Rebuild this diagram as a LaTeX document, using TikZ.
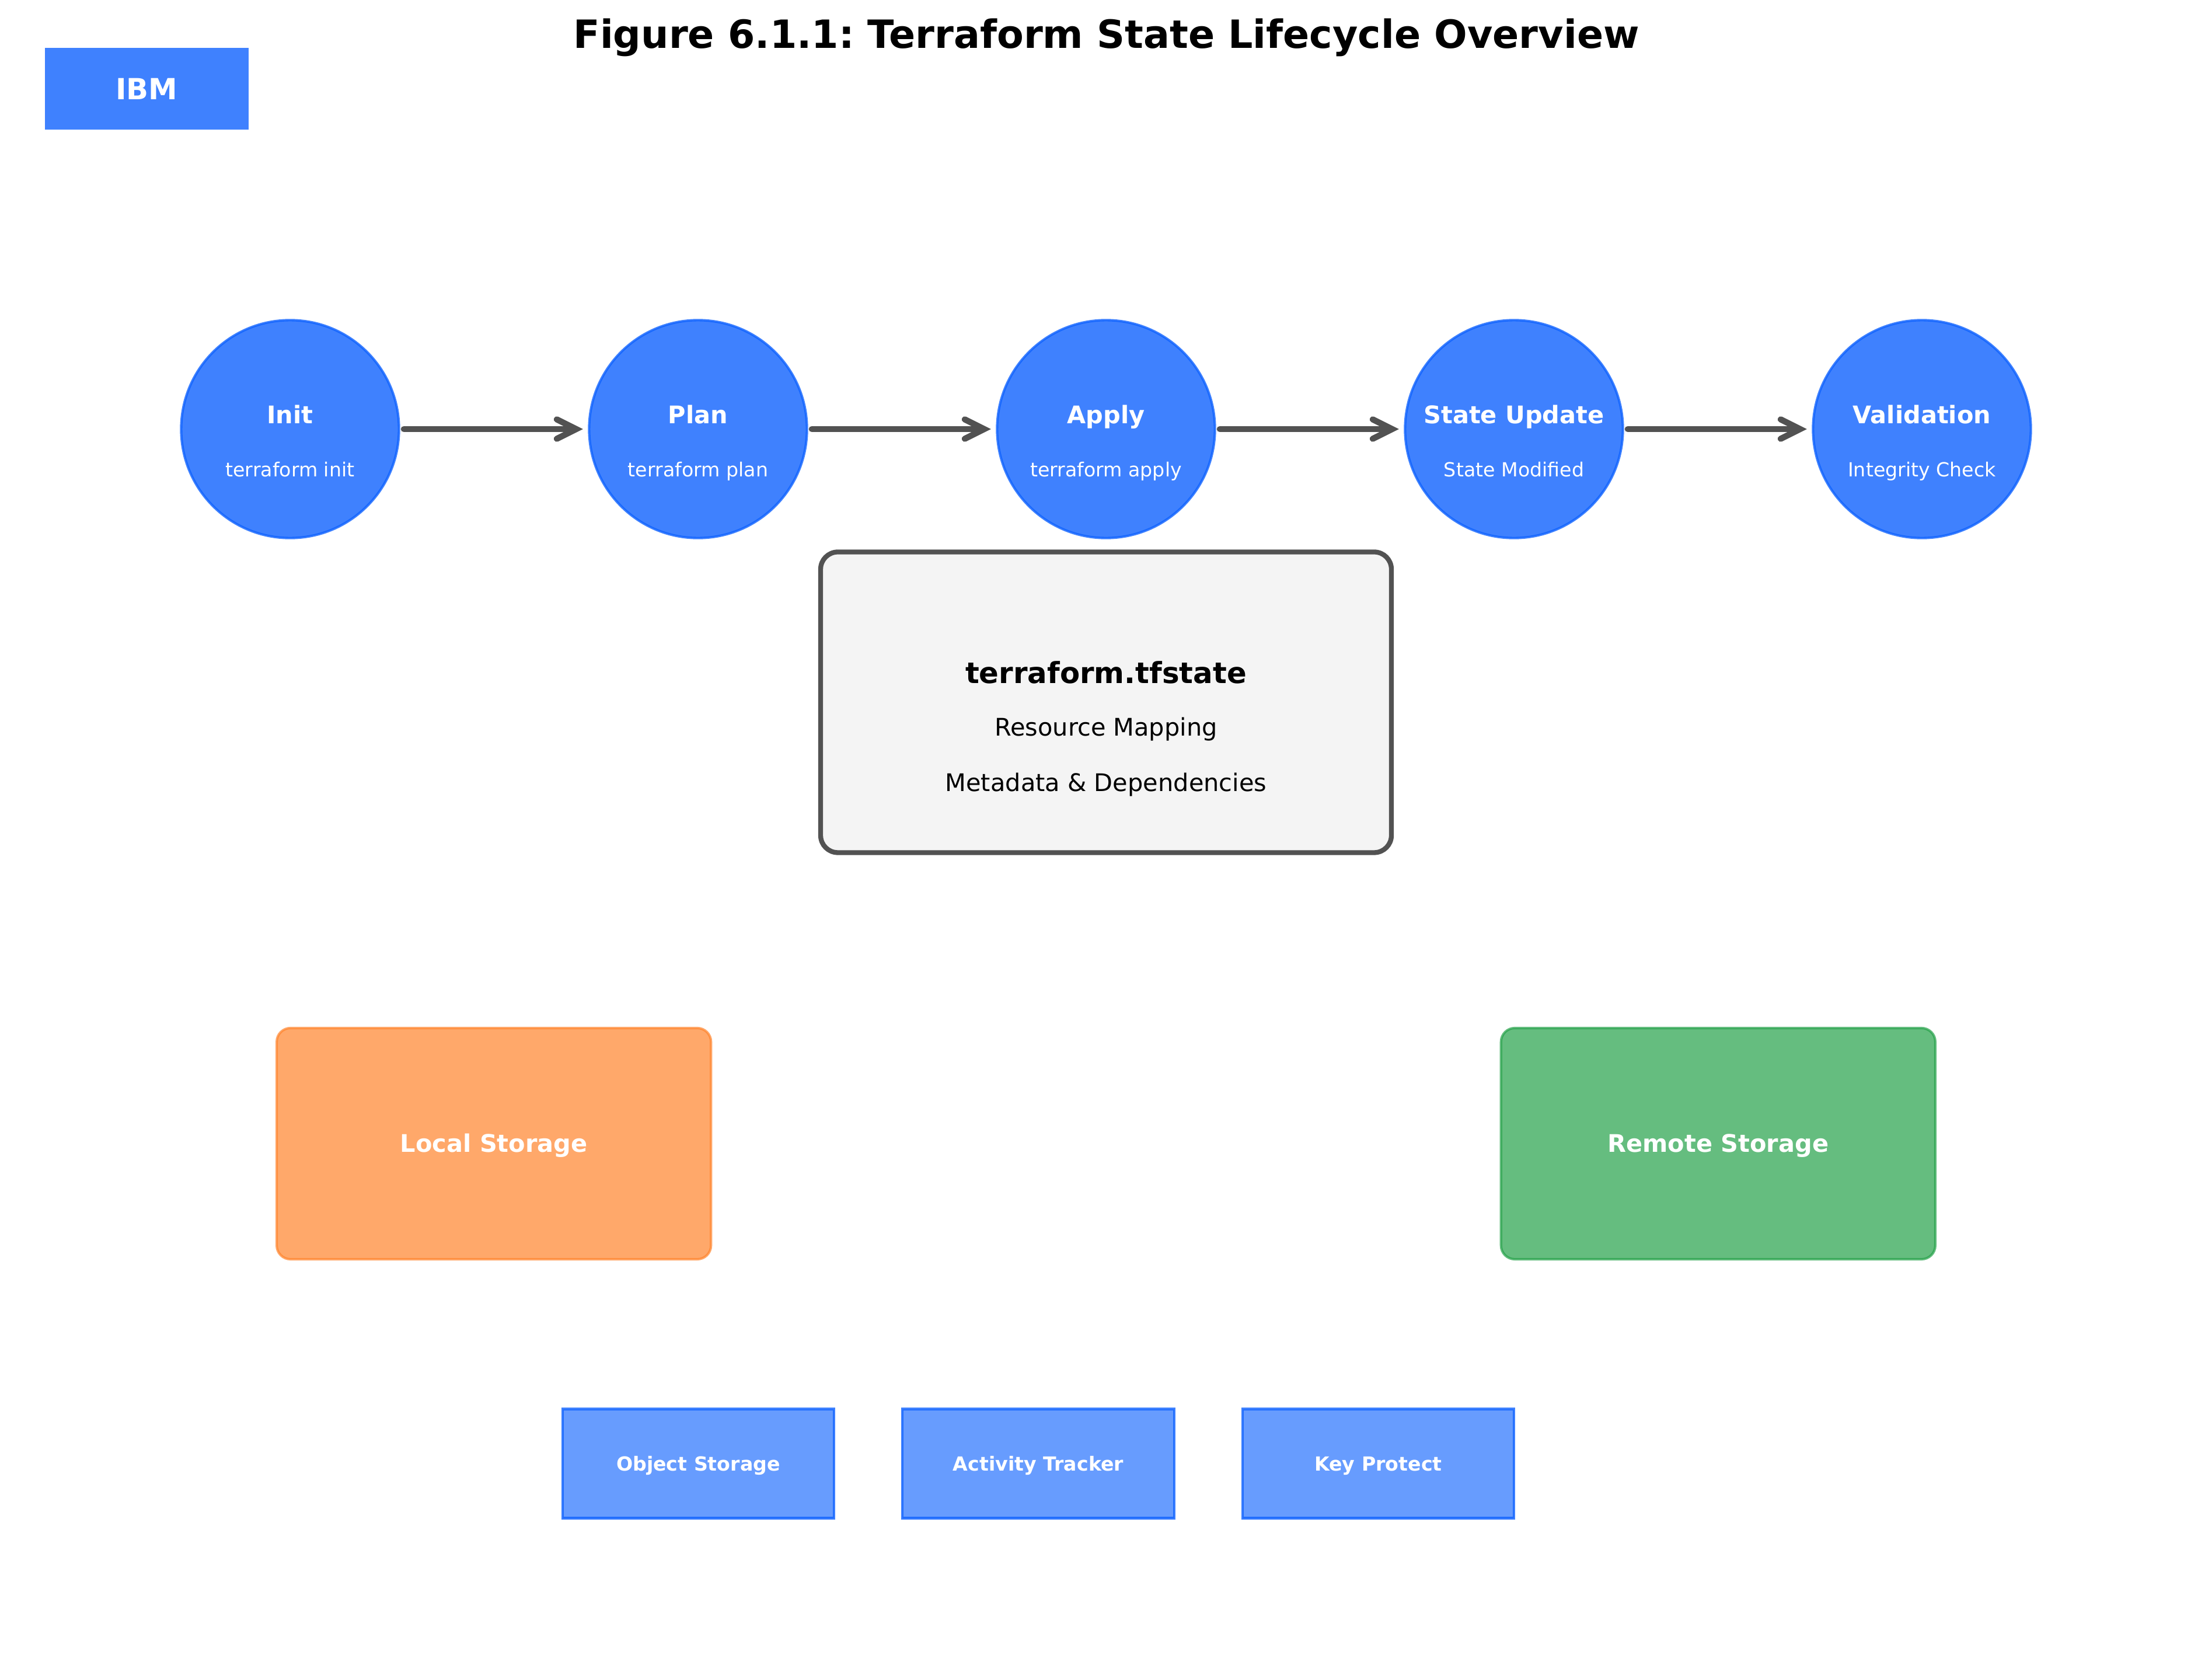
\documentclass[tikz,border=0pt]{standalone}
\usepackage{fontspec}
\setmainfont{DejaVu Sans}
\frenchspacing
\usetikzlibrary{arrows.meta,positioning}
\definecolor{IbmBlue}   {RGB}{ 15, 98,254}
\definecolor{StoreOrange}{RGB}{255,131, 43}
\definecolor{StoreGreen}{RGB}{ 36,161, 72}
\definecolor{StateFill} {RGB}{244,244,244}
\definecolor{StateEdge} {RGB}{ 82, 82, 82}
\tikzset{
  %% lifecycle circles
  stage/.style={circle,draw=IbmBlue,fill=IbmBlue,fill opacity=0.8,draw opacity=0.8,
                line width=1pt,minimum size=3.16cm,inner sep=0pt,outer sep=0pt},
  stagename/.style={anchor=base,inner sep=0pt,text=white,
                font=\fontsize{10}{12}\selectfont\bfseries},
  stagecmd/.style={anchor=base,inner sep=0pt,text=white,
                font=\fontsize{8}{10}\selectfont},
  %% state file box
  statebox/.style={rectangle,rounded corners=2.5mm,draw=StateEdge,fill=StateFill,
                line width=2pt,minimum width=8.28cm,minimum height=4.36cm,outer sep=0pt},
  statetitle/.style={anchor=base,inner sep=0pt,text=black,
                font=\fontsize{12}{14}\selectfont\bfseries},
  statetext/.style={anchor=base,inner sep=0pt,text=black,
                font=\fontsize{10}{12}\selectfont},
  %% storage boxes
  storebox/.style={rectangle,rounded corners=2mm,line width=1pt,
                fill opacity=0.7,draw opacity=0.7,text opacity=1,text=white,
                minimum width=6.30cm,minimum height=3.353cm,outer sep=0pt,
                text height=9.7pt,text depth=2.5pt,
                font=\fontsize{10}{12}\selectfont\bfseries},
  %% IBM service boxes
  svcbox/.style={rectangle,draw=IbmBlue,fill=IbmBlue,line width=1pt,
                fill opacity=0.63,draw opacity=0.8,text opacity=1,text=white,
                minimum width=3.94cm,minimum height=1.583cm,outer sep=0pt,
                text height=7pt,text depth=1.2pt,
                font=\fontsize{8}{10}\selectfont\bfseries},
  logobox/.style={rectangle,fill=IbmBlue,fill opacity=0.8,text opacity=1,text=white,
                minimum width=2.955cm,minimum height=1.185cm,outer sep=0pt,
                text height=9.5pt,text depth=0.5pt,
                font=\fontsize{12}{14}\selectfont\bfseries},
  %% arrows
  flowarr/.style={-{Straight Barb[length=8pt,width=8pt,line cap=round]},line width=2.5pt,
                line cap=round,color=StateEdge,shorten <=0.07cm,shorten >=0.09cm},
}
\begin{document}
\begin{tikzpicture}[node distance=2.758cm]
    \useasboundingbox (0,0) rectangle (32.088,-24.248);

    %% title and logo
    \node[anchor=base,inner sep=0pt,font=\fontsize{16.05}{20}\selectfont\bfseries] (Title)
      at (16.05,-0.70) {Figure 6.1.1: Terraform State Lifecycle Overview};
    \node[logobox] (Logo) at (2.129,-1.287) {IBM};

    %% lifecycle row
    \node[stage] (Init) at (4.208,-6.223) {};
    \node[stage, right=of Init]  (Plan)  {};
    \node[stage, right=of Plan]  (Apply) {};
    \node[stage, right=of Apply] (Update) {};
    \node[stage, right=of Update] (Valid) {};

    \node[stagename] (InitName)   at ([yshift=0.079cm]Init)   {Init};
    \node[stagename] (PlanName)   at ([yshift=0.079cm]Plan)   {Plan};
    \node[stagename] (ApplyName)  at ([yshift=0.079cm]Apply)  {Apply};
    \node[stagename] (UpdateName) at ([yshift=0.079cm]Update) {State Update};
    \node[stagename] (ValidName)  at ([yshift=0.079cm]Valid)  {Validation};

    \node[stagecmd] (InitCmd)   at ([yshift=-0.686cm]Init)   {terraform init};
    \node[stagecmd] (PlanCmd)   at ([yshift=-0.686cm]Plan)   {terraform plan};
    \node[stagecmd] (ApplyCmd)  at ([yshift=-0.686cm]Apply)  {terraform apply};
    \node[stagecmd] (UpdateCmd) at ([yshift=-0.686cm]Update) {State Modified};
    \node[stagecmd] (ValidCmd)  at ([yshift=-0.686cm]Valid)  {Integrity Check};

    %% lifecycle arrows
    \draw[flowarr] (Init)   -- (Plan);
    \draw[flowarr] (Plan)   -- (Apply);
    \draw[flowarr] (Apply)  -- (Update);
    \draw[flowarr] (Update) -- (Valid);

    %% state file
    \node[statebox, below=0.202cm of Apply] (State) {};
    \node[statetitle] (StateName) at ([yshift=0.271cm]State)  {terraform.tfstate};
    \node[statetext]  (StateMap)  at ([yshift=-0.491cm]State) {Resource Mapping};
    \node[statetext]  (StateMeta) at ([yshift=-1.295cm]State) {Metadata \& Dependencies};

    %% storage
    \node[storebox, draw=StoreOrange, fill=StoreOrange, below=2.544cm of State, xshift=-8.88cm] (Local)  {Local Storage};
    \node[storebox, draw=StoreGreen,  fill=StoreGreen,  below=2.544cm of State, xshift=8.88cm]  (Remote) {Remote Storage};

    %% IBM services
    \node[svcbox, below=2.172cm of Local, xshift=2.965cm] (ObjStore) {Object Storage};
    \node[svcbox, right=0.992cm of ObjStore] (Tracker) {Activity Tracker};
    \node[svcbox, right=0.992cm of Tracker]  (KeyProt) {Key Protect};
\end{tikzpicture}
\end{document}
